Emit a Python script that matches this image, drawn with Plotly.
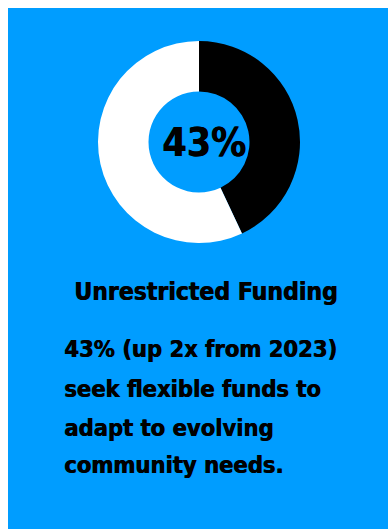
import plotly.graph_objects as go

# Donut data: share seeking unrestricted funding vs. the rest
labels = ["Unrestricted", "Other"]
values = [43, 57]
slice_colors = ["#000000", "#FFFFFF"]

center_label = "43%"
title_text = "Unrestricted Funding"
body_lines = [
    "43% (up 2x from 2023)",
    "seek flexible funds to",
    "adapt to evolving",
    "community needs.",
]

W, H = 388, 529
BG = "#009DFF"
FONT = "DejaVu Sans Condensed, Liberation Sans Narrow, sans-serif"
# a slight horizontal shadow thickens the strokes to a heavier look
HEAVY = "0.7px 0px 0px #000000"


def px_x(x):
    return x / W


def px_y(y):
    return 1 - y / H


fig = go.Figure()

fig.add_trace(go.Pie(
    labels=labels,
    values=values,
    hole=0.5,
    sort=False,
    direction="clockwise",
    rotation=0,
    marker=dict(colors=slice_colors, line=dict(width=0)),
    textinfo="none",
    hoverinfo="skip",
    showlegend=False,
    domain=dict(x=[px_x(98), px_x(300)], y=[px_y(243), px_y(41)]),
))

annotations = [
    dict(text=f"<b>{center_label}</b>", x=px_x(203.5), y=px_y(142.5),
         xanchor="center", yanchor="middle",
         font=dict(family=FONT, size=39, color="#000000", shadow=HEAVY)),
    dict(text=f"<b>{title_text}</b>", x=px_x(72), y=px_y(291),
         xanchor="left", yanchor="middle",
         font=dict(family=FONT, size=24.5, color="#000000", shadow=HEAVY)),
]

line_centers = [349, 389, 428, 465]
for line, yc in zip(body_lines, line_centers):
    annotations.append(dict(
        text=f"<b>{line}</b>", x=px_x(62), y=px_y(yc),
        xanchor="left", yanchor="middle",
        font=dict(family=FONT, size=23.5, color="#000000", shadow=HEAVY),
    ))

for a in annotations:
    a.update(xref="paper", yref="paper", showarrow=False)

fig.update_layout(
    width=W, height=H,
    margin=dict(l=0, r=0, t=0, b=0),
    paper_bgcolor="#FFFFFF",
    plot_bgcolor="#FFFFFF",
    annotations=annotations,
    shapes=[dict(type="rect", xref="paper", yref="paper",
                 x0=px_x(8), x1=1, y0=0, y1=px_y(8),
                 fillcolor=BG, line=dict(width=0), layer="below")],
)

fig.write_html("out.html")
